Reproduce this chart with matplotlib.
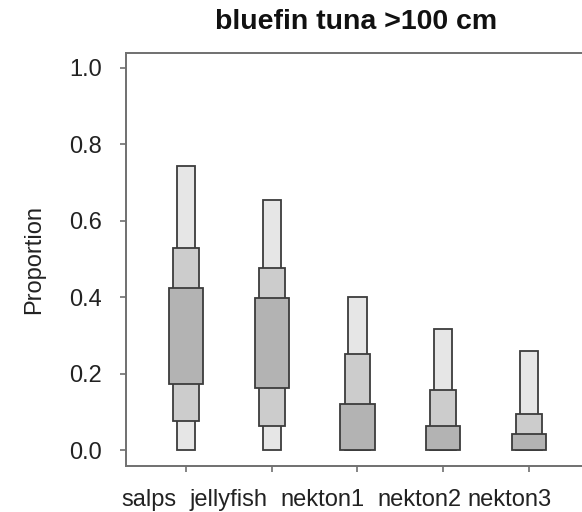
import matplotlib
matplotlib.use("Agg")
import matplotlib.pyplot as plt
from matplotlib.patches import Rectangle
from matplotlib.transforms import ScaledTranslation

plt.rcParams['font.family'] = ['Liberation Sans', 'DejaVu Sans']

sources = ["salps", "jellyfish", "nekton1", "nekton2", "nekton3"]
# credible intervals (low, high)
ci95_lo = [0.00, 0.00, 0.00, 0.00, 0.00]
ci95_hi = [0.745, 0.655, 0.400, 0.318, 0.259]
ci75_lo = [0.078, 0.063, 0.00, 0.00, 0.00]
ci75_hi = [0.530, 0.478, 0.253, 0.157, 0.096]
ci50_lo = [0.174, 0.162, 0.00, 0.00, 0.00]
ci50_hi = [0.424, 0.398, 0.122, 0.063, 0.042]

levels = [
    (ci95_lo, ci95_hi, 0.21, "#e6e6e6"),
    (ci75_lo, ci75_hi, 0.30, "#cccccc"),
    (ci50_lo, ci50_hi, 0.40, "#b3b3b3"),
]
# the labels in the original sit left of their ticks (pixels)
label_shift = [-37, -43, -35, -24, -19]

W, H = 582, 512
fig = plt.figure(figsize=(W / 100, H / 100), dpi=100)
left, right = 126, 589
top, bottom = 52.7, 465.7
ax = fig.add_axes([left / W, (H - bottom) / H, (right - left) / W, (bottom - top) / H])

for lo, hi, w, col in levels:
    for i, (a, b) in enumerate(zip(lo, hi)):
        x = i + 1
        ax.add_patch(Rectangle((x - w / 2, a), w, b - a, facecolor=col,
                               edgecolor="#3c3c3c", linewidth=1.3))

ax.set_xlim(0.3, 5.7)
ax.set_ylim(-0.04, 1.04)
ax.set_xticks(range(1, len(sources) + 1))
ax.set_xticklabels(sources)
ax.set_yticks([0.0, 0.2, 0.4, 0.6, 0.8, 1.0])
ax.set_yticklabels(["0.0", "0.2", "0.4", "0.6", "0.8", "1.0"])

for s in ax.spines.values():
    s.set_color("#707070")
    s.set_linewidth(1.4)
ax.tick_params(axis="both", direction="out", length=4.5, width=1.2,
               color="#707070", labelsize=17, labelcolor="#222222")
ax.tick_params(axis="y", pad=13)
ax.tick_params(axis="x", pad=12)

for lab, dx in zip(ax.get_xticklabels(), label_shift):
    lab.set_transform(lab.get_transform() + ScaledTranslation(dx / 100, 0, fig.dpi_scale_trans))

ax.set_ylabel("Proportion", fontsize=17, color="#222222", labelpad=17)
fig.text(356 / W, 1 - 22 / H, "bluefin tuna >100 cm", fontsize=20.5,
         fontweight="bold", ha="center", va="center", color="#111111")

fig.savefig("out.png", dpi=100)
